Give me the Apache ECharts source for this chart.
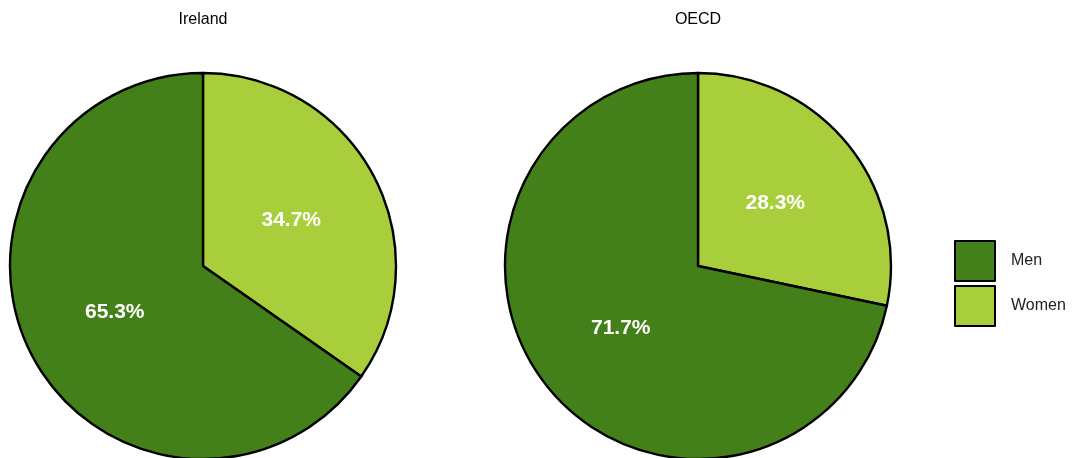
<!DOCTYPE html>
<html>
<head>
<meta charset="utf-8">
<script src="https://cdn.jsdelivr.net/npm/echarts@6/dist/echarts.min.js"></script>
<style>
  html, body { margin: 0; padding: 0; background: #ffffff; }
  #chart { width: 1073px; height: 458px; }
</style>
</head>
<body>
<div id="chart"></div>
<script>
// share of each group, women slice starts at 12 o'clock
const groups = ['Women', 'Men']
const regions = ['Ireland', 'OECD']
const irelandShares = [34.7, 65.3]
const oecdShares = [28.3, 71.7]
const colors = { Men: '#44801a', Women: '#a9ce3b' }

function slices(values) {
  return groups.map((name, i) => ({
    name,
    value: values[i],
    itemStyle: { color: colors[name] },
  }))
}

function pieSeries(name, values, cx) {
  return {
    name,
    type: 'pie',
    center: [cx, 266],
    radius: 193,
    startAngle: 90,
    clockwise: true,
    silent: true,
    itemStyle: { borderColor: '#000', borderWidth: 2.4 },
    label: {
      position: 'inside',
      color: '#fff',
      fontSize: 21,
      fontWeight: 'bold',
      fontFamily: 'Liberation Sans',
      formatter: (p) => p.value.toFixed(1) + '%',
    },
    labelLine: { show: false },
    data: slices(values),
  }
}

const chart = echarts.init(document.getElementById('chart'))
chart.setOption({
  animation: false,
  title: [
    { text: regions[0], left: 198, top: 7, textAlign: 'center' },
    { text: regions[1], left: 693, top: 7, textAlign: 'center' },
  ].map((t) => ({
    ...t,
    textStyle: { fontSize: 16, fontWeight: 'normal', color: '#000', fontFamily: 'Liberation Sans' },
  })),
  legend: {
    data: ['Men', 'Women'],
    orient: 'vertical',
    left: 949,
    top: 235,
    icon: 'rect',
    itemWidth: 40,
    itemHeight: 40,
    itemGap: 3,
    itemStyle: { borderColor: '#000', borderWidth: 2 },
    textStyle: { fontSize: 16, color: '#222', fontFamily: 'Liberation Sans', padding: [2, 0, 0, 11] },
  },
  series: [
    pieSeries(regions[0], irelandShares, 203),
    pieSeries(regions[1], oecdShares, 698),
  ],
})
</script>
</body>
</html>
